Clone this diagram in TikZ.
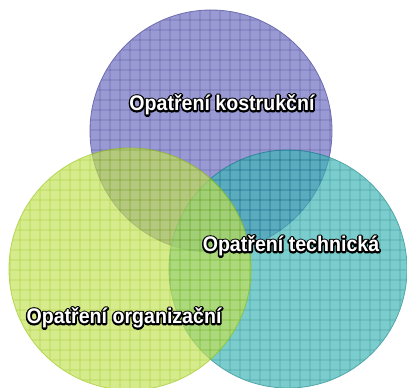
\documentclass[tikz,border=0pt]{standalone}
\usepackage{fontspec}
\setmainfont{Liberation Sans}
\usetikzlibrary{positioning}
\definecolor{kfill}{RGB}{105,105,190}
\definecolor{kline}{RGB}{40,40,140}
\definecolor{tfill}{RGB}{60,180,180}
\definecolor{tline}{RGB}{0,125,128}
\definecolor{ofill}{RGB}{195,225,85}
\definecolor{oline}{RGB}{145,195,0}
% bily text s cernym obrysem
\newcommand{\oznac}[1]{\scalebox{0.98}[1.06]{\rlap{\color{black}\special{pdf:literal 1 Tr 3.2 w 1 j}#1\special{pdf:literal 0 Tr}}\textcolor{white}{#1}}}

\begin{document}
\begin{tikzpicture}[x=1pt, y=-1pt,
	kruh/.style={transparency group, opacity=0.68},
	mrizka/.style={line width=0.9pt, step=10pt},
	popis/.style={font=\bfseries\fontsize{20}{24}\selectfont, inner sep=0pt}]
	
	\useasboundingbox (0,0) rectangle (407,388);
	\clip (0,0) rectangle (407,388);
	
	\coordinate (k) at (211,131);
	\coordinate (t) at (288,269);
	\coordinate (o) at (130,269);
	
	% konstrukcni
	\begin{scope}[kruh]
		\fill[kfill] (k) circle (121);
		\begin{scope}
			\clip (k) circle (121);
			\draw[kline, mrizka] (0,0) grid (407,388);
		\end{scope}
		\draw[kline, line width=0.8pt] (k) circle (121);
	\end{scope}
	
	% technicka
	\begin{scope}[kruh]
		\fill[tfill] (t) circle (119);
		\begin{scope}
			\clip (t) circle (119);
			\draw[tline, mrizka] (0,0) grid (407,388);
		\end{scope}
		\draw[tline, line width=0.8pt] (t) circle (119);
	\end{scope}
	
	% organizacni
	\begin{scope}[kruh]
		\fill[ofill] (o) circle (121);
		\begin{scope}
			\clip (o) circle (121);
			\draw[oline, mrizka] (0,0) grid (407,388);
		\end{scope}
		\draw[oline, line width=0.8pt] (o) circle (121);
	\end{scope}
	
	\node[popis] (konstrukcni) at (222,105) {\oznac{Opatření kostrukční}};
	\node[popis] (technicka) at (291,246) {\oznac{Opatření technická}};
	\node[popis] (organizacni) at (124,318) {\oznac{Opatření organizační}};
	
\end{tikzpicture}
\end{document}
